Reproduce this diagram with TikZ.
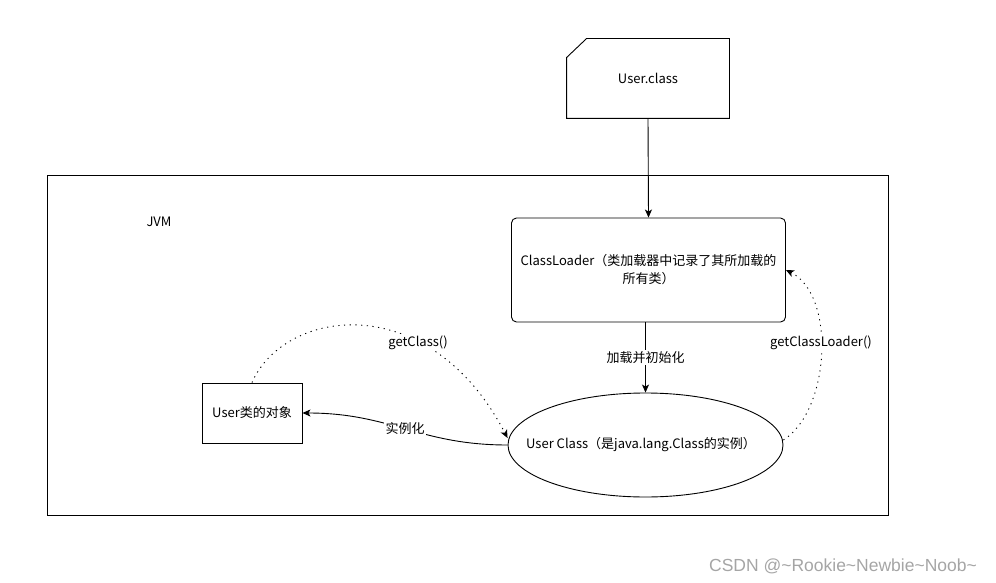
\documentclass[tikz,border=0pt]{standalone}
\usepackage{fontspec}
\usetikzlibrary{arrows.meta,shapes.geometric}
\newfontfamily\cjk{Noto Sans CJK SC}
\setsansfont{Liberation Sans}
\definecolor{marque}{RGB}{165,165,165}

\begin{document}
\begin{tikzpicture}[x=1pt, y=-1pt, line width=0.9pt,
		font=\cjk\fontsize{13}{18}\selectfont,
		fleche/.style={-{Stealth[length=8pt,width=7pt,inset=2pt]}},
		pointille/.style={fleche, dash pattern=on 1.2pt off 4.5pt},
		etiquette/.style={fill=white, inner sep=1.5pt},
		boite/.style={draw, rectangle, inner sep=0pt, align=center}]

		\useasboundingbox (0,0) rectangle (996,583);

		%la JVM
		\node[boite, minimum width=841, minimum height=340] (jvm) at (467.5,345) {};
		\node (nomjvm) at (159,222) {JVM};

		%le fichier .class
		\node[boite, draw=none, minimum width=162, minimum height=79] (carte) at (648,78.5) {User.class};
		\draw (carte.north west) ++(0,19) -- ([xshift=20pt]carte.north west) -- (carte.north east)
			-- (carte.south east) -- (carte.south west) -- cycle;

		%les noeuds
		\node[boite, rounded corners=5pt, minimum width=274, minimum height=104] (chargeur) at (648.5,270)
			{ClassLoader（类加载器中记录了其所加载的\\所有类）};
		\node[draw, ellipse, inner sep=0pt, minimum width=275, minimum height=104] (classe) at (645.5,445) {};
		\node (texteclasse) at (641,445) {User Class（是java.lang.Class的实例）};
		\node[boite, minimum width=100, minimum height=60] (objet) at (252,413) {User类的对象};

		%les fleches
		\draw[fleche] (carte.south) -- (chargeur.north);
		\draw[fleche] (classe.north |- chargeur.south) -- node[etiquette] {加载并初始化} (classe.north);
		\draw[fleche] (classe.west) .. controls +(-88,0) and +(88,0) .. node[etiquette] {实例化} (objet.east);
		\draw[pointille] (objet.north) .. controls +(33,-75) and +(-78,-150) ..
			node[etiquette, pos=0.68] {getClass()} ([yshift=7pt]classe.west);
		\draw[pointille] ([yshift=5pt]classe.east) .. controls +(47,-30) and +(50,25) ..
			node[etiquette, pos=0.55] {getClassLoader()} (chargeur.east);

		\node[font=\sffamily\fontsize{17.5}{21}\selectfont, text=marque] (signature) at (843,566)
			{CSDN @\textasciitilde Rookie\textasciitilde Newbie\textasciitilde Noob\textasciitilde};

\end{tikzpicture}
\end{document}
